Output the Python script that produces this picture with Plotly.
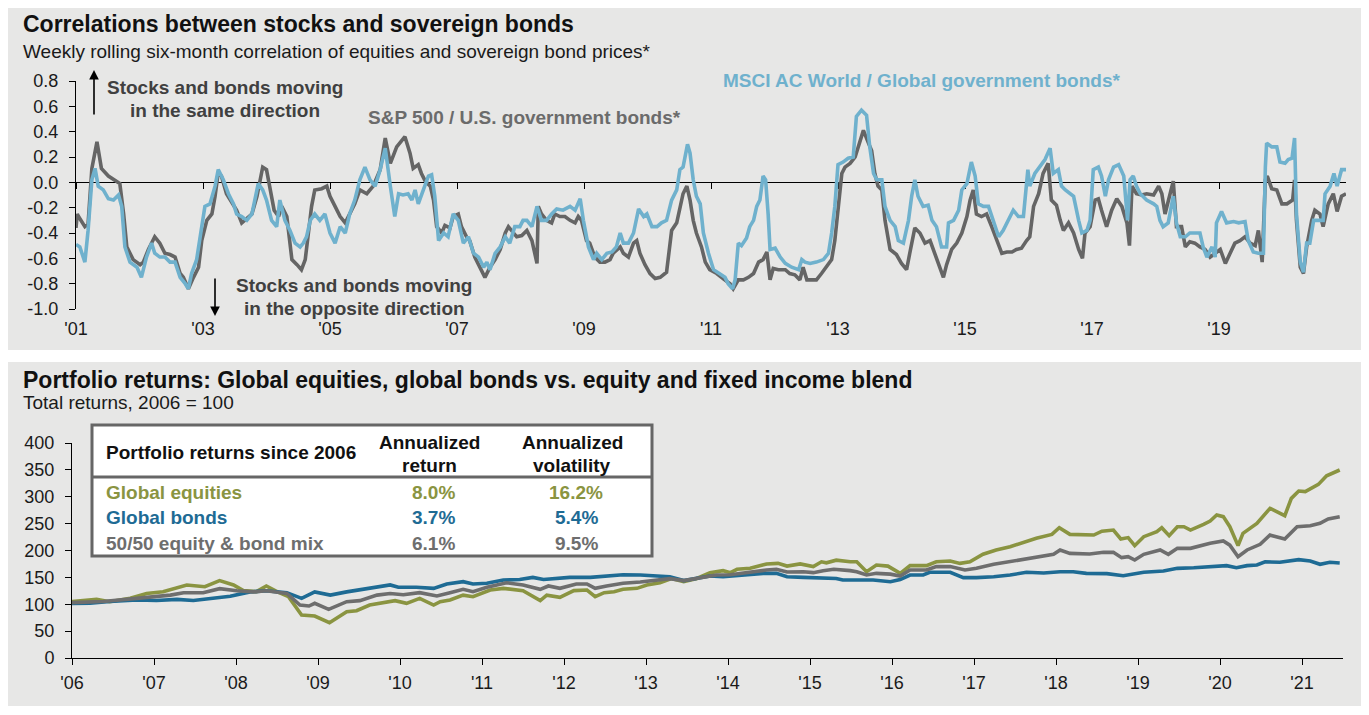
import plotly.graph_objects as go

W, H = 1369, 715

# ---- top chart: weekly rolling six-month correlation ----
sp_years = [
    2001.00, 2001.02, 2001.04, 2001.14, 2001.19, 2001.25, 2001.33, 2001.40, 2001.51, 2001.64,
    2001.69, 2001.75, 2001.80, 2001.90, 2002.01, 2002.06, 2002.14, 2002.24, 2002.32, 2002.40,
    2002.48, 2002.56, 2002.64, 2002.69, 2002.77, 2002.85, 2002.93, 2002.98, 2003.06, 2003.14,
    2003.19, 2003.24, 2003.29, 2003.37, 2003.45, 2003.53, 2003.61, 2003.66, 2003.77, 2003.85,
    2003.94, 2004.00, 2004.06, 2004.12, 2004.19, 2004.24, 2004.32, 2004.36, 2004.40, 2004.48,
    2004.55, 2004.61, 2004.66, 2004.71, 2004.76, 2004.87, 2004.95, 2005.00, 2005.08, 2005.16,
    2005.24, 2005.31, 2005.39, 2005.47, 2005.58, 2005.68, 2005.79, 2005.87,
    2005.95, 2006.05, 2006.18, 2006.26, 2006.31, 2006.39, 2006.44, 2006.50, 2006.58, 2006.63,
    2006.68, 2006.76, 2006.81, 2006.89, 2006.94, 2007.02, 2007.07, 2007.15, 2007.20, 2007.28,
    2007.36, 2007.44, 2007.52, 2007.60, 2007.68, 2007.76, 2007.81, 2007.89, 2007.94, 2008.02,
    2008.10, 2008.18, 2008.26, 2008.28, 2008.33, 2008.41, 2008.49, 2008.54, 2008.62, 2008.70,
    2008.78, 2008.86, 2008.91, 2008.96, 2009.04, 2009.09, 2009.17, 2009.25, 2009.33, 2009.41,
    2009.46, 2009.57, 2009.62, 2009.70, 2009.78, 2009.83, 2009.88, 2009.96, 2010.04, 2010.12,
    2010.20, 2010.30, 2010.38, 2010.46, 2010.51, 2010.56, 2010.62, 2010.67, 2010.72, 2010.77,
    2010.85, 2010.91,
    2010.98, 2011.09, 2011.19, 2011.30, 2011.35, 2011.43, 2011.51, 2011.59, 2011.67, 2011.75,
    2011.82, 2011.88, 2011.93, 2011.98, 2012.06, 2012.17, 2012.24, 2012.32, 2012.40, 2012.45,
    2012.51, 2012.58, 2012.66, 2012.74, 2012.82, 2012.90, 2012.95, 2013.00, 2013.06, 2013.11,
    2013.19, 2013.27, 2013.35, 2013.40, 2013.48, 2013.53, 2013.58, 2013.63, 2013.69, 2013.74,
    2013.82, 2013.92, 2014.00, 2014.08, 2014.13, 2014.21, 2014.29, 2014.37, 2014.45, 2014.53,
    2014.61, 2014.66, 2014.71, 2014.79, 2014.87, 2014.95, 2015.03, 2015.08, 2015.13, 2015.18,
    2015.26, 2015.34, 2015.42, 2015.50, 2015.58, 2015.66, 2015.74, 2015.81, 2015.89, 2015.97,
    2016.02, 2016.08, 2016.16, 2016.23, 2016.31, 2016.36, 2016.44, 2016.50, 2016.55, 2016.63,
    2016.71, 2016.79, 2016.85, 2016.89, 2016.97, 2017.05, 2017.10, 2017.15, 2017.23, 2017.31,
    2017.39, 2017.47, 2017.55, 2017.59, 2017.63, 2017.70, 2017.78, 2017.86, 2017.97, 2018.05,
    2018.10, 2018.15, 2018.23, 2018.28, 2018.33, 2018.41, 2018.47, 2018.54, 2018.62, 2018.70,
    2018.78, 2018.86, 2018.94, 2019.02, 2019.10, 2019.17, 2019.25, 2019.33, 2019.41, 2019.49,
    2019.57, 2019.62, 2019.68, 2019.73, 2019.76, 2019.83, 2019.91, 2019.99, 2020.07, 2020.16,
    2020.19, 2020.22, 2020.28, 2020.33, 2020.38, 2020.46, 2020.51, 2020.59, 2020.64, 2020.72,
    2020.80, 2020.86, 2020.93, 2021.00,
]
sp_corr = [
    -0.36, -0.25, -0.27, -0.35, -0.33, 0.11, 0.32, 0.11, 0.05, 0.01,
    -0.01, -0.25, -0.51, -0.61, -0.65, -0.63, -0.53, -0.43, -0.48, -0.56,
    -0.57, -0.59, -0.72, -0.75, -0.84, -0.75, -0.67, -0.46, -0.30, -0.25,
    -0.11, 0.08, 0.05, -0.09, -0.15, -0.22, -0.32, -0.30, -0.25, -0.11,
    0.12, 0.10, -0.06, -0.22, -0.27, -0.19, -0.27, -0.46, -0.61, -0.65,
    -0.69, -0.61, -0.38, -0.19, -0.06, -0.05, -0.03, -0.11, -0.19, -0.27,
    -0.32, -0.25, -0.17, -0.06, -0.09, -0.03, 0.10, 0.35,
    0.15, 0.28, 0.36, 0.23, 0.11, 0.14, 0.07, 0.01, -0.03, -0.14,
    -0.35, -0.40, -0.34, -0.36, -0.27, -0.25, -0.35, -0.43, -0.46, -0.59,
    -0.67, -0.75, -0.67, -0.61, -0.53, -0.40, -0.35, -0.40, -0.43, -0.42,
    -0.38, -0.46, -0.64, -0.19, -0.25, -0.30, -0.32, -0.25, -0.27, -0.27,
    -0.30, -0.32, -0.27, -0.30, -0.46, -0.48, -0.59, -0.63, -0.63, -0.61,
    -0.56, -0.51, -0.56, -0.59, -0.48, -0.46, -0.56, -0.65, -0.72, -0.76,
    -0.75, -0.71, -0.38, -0.32, -0.19, -0.09, -0.03, -0.14, -0.30, -0.40,
    -0.51, -0.63,
    -0.69, -0.72, -0.76, -0.80, -0.84, -0.77, -0.77, -0.75, -0.72, -0.63,
    -0.61, -0.55, -0.77, -0.68, -0.69, -0.69, -0.72, -0.73, -0.77, -0.67,
    -0.77, -0.77, -0.77, -0.72, -0.67, -0.61, -0.46, -0.19, 0.07, 0.12,
    0.15, 0.20, 0.33, 0.41, 0.31, 0.25, 0.07, -0.03, -0.06, -0.30,
    -0.53, -0.57, -0.64, -0.69, -0.56, -0.36, -0.40, -0.48, -0.46, -0.57,
    -0.67, -0.75, -0.65, -0.53, -0.48, -0.40, -0.27, -0.14, -0.06, -0.25,
    -0.27, -0.25, -0.35, -0.46, -0.56, -0.55, -0.55, -0.53, -0.52, -0.46,
    -0.43, -0.19, -0.09, 0.07, 0.15, -0.14, -0.18, -0.30, -0.38, -0.32,
    -0.40, -0.53, -0.60, -0.40, -0.35, -0.14, -0.13, -0.22, -0.35, -0.22,
    -0.13, -0.19, -0.32, -0.50, -0.03, -0.09, -0.10, -0.09, -0.10, -0.03,
    -0.09, -0.25, -0.09, 0.01, -0.35, -0.35, -0.51, -0.47, -0.48, -0.51,
    -0.53, -0.59, -0.56, -0.53, -0.64, -0.56, -0.48, -0.46, -0.43, -0.48,
    -0.50, -0.38, -0.63, 0.02, 0.05, -0.05, -0.06, -0.17, -0.17, -0.14,
    0.02, -0.30, -0.67, -0.72, -0.51, -0.30, -0.22, -0.25, -0.35, -0.17,
    -0.09, -0.23, -0.11, -0.09,
]

msci_years = [
    2001.00, 2001.06, 2001.14, 2001.19, 2001.25, 2001.30, 2001.35, 2001.43, 2001.51, 2001.59,
    2001.67, 2001.72, 2001.77, 2001.85, 2001.96, 2002.03, 2002.11, 2002.19, 2002.24, 2002.32,
    2002.40, 2002.48, 2002.56, 2002.64, 2002.72, 2002.77, 2002.82, 2002.90, 2002.98, 2003.03,
    2003.11, 2003.19, 2003.24, 2003.32, 2003.40, 2003.48, 2003.53, 2003.61, 2003.69, 2003.77,
    2003.87, 2003.94, 2004.00, 2004.08, 2004.16, 2004.21, 2004.29, 2004.37, 2004.45, 2004.53,
    2004.58, 2004.63, 2004.69, 2004.76, 2004.84, 2004.92, 2005.00, 2005.08, 2005.16, 2005.24,
    2005.31, 2005.39, 2005.47, 2005.55, 2005.63, 2005.71, 2005.79, 2005.87,
    2005.95, 2006.02, 2006.08, 2006.15, 2006.23, 2006.29, 2006.34, 2006.39, 2006.47, 2006.55,
    2006.60, 2006.65, 2006.71, 2006.79, 2006.86, 2006.94, 2007.02, 2007.10, 2007.18, 2007.26,
    2007.34, 2007.42, 2007.47, 2007.52, 2007.60, 2007.68, 2007.76, 2007.83, 2007.91, 2007.99,
    2008.04, 2008.10, 2008.18, 2008.26, 2008.33, 2008.41, 2008.49, 2008.57, 2008.67, 2008.78,
    2008.86, 2008.94, 2008.99, 2009.07, 2009.15, 2009.20, 2009.28, 2009.36, 2009.44, 2009.51,
    2009.57, 2009.62, 2009.70, 2009.78, 2009.86, 2009.94, 2009.99, 2010.07, 2010.15, 2010.22,
    2010.30, 2010.38, 2010.46, 2010.51, 2010.56, 2010.63, 2010.67, 2010.72, 2010.77, 2010.83,
    2010.88, 2010.96,
    2011.04, 2011.12, 2011.22, 2011.27, 2011.34, 2011.38, 2011.43, 2011.48, 2011.56, 2011.61,
    2011.67, 2011.72, 2011.77, 2011.82, 2011.86, 2011.90, 2011.93, 2012.01, 2012.09, 2012.17,
    2012.27, 2012.38, 2012.43, 2012.48, 2012.56, 2012.66, 2012.77, 2012.85, 2012.90, 2012.95,
    2013.00, 2013.08, 2013.16, 2013.24, 2013.29, 2013.37, 2013.45, 2013.50, 2013.56, 2013.61,
    2013.69, 2013.74, 2013.82, 2013.90, 2013.95, 2014.03, 2014.11, 2014.16, 2014.21, 2014.26,
    2014.34, 2014.42, 2014.48, 2014.55, 2014.63, 2014.71, 2014.74, 2014.82, 2014.90, 2014.95,
    2015.03, 2015.10, 2015.16, 2015.21, 2015.29, 2015.37, 2015.45, 2015.53, 2015.60, 2015.68,
    2015.76, 2015.84, 2015.92, 2015.99,
    2016.02, 2016.10, 2016.18, 2016.26, 2016.34, 2016.39, 2016.47, 2016.52, 2016.58, 2016.65,
    2016.71, 2016.79, 2016.84, 2016.92, 2016.97, 2017.02, 2017.10, 2017.15, 2017.21, 2017.26,
    2017.34, 2017.42, 2017.50, 2017.56, 2017.60, 2017.65, 2017.70, 2017.76, 2017.86, 2017.97,
    2018.02, 2018.07, 2018.12, 2018.20, 2018.28, 2018.33, 2018.39, 2018.47, 2018.54, 2018.62,
    2018.70, 2018.75, 2018.81, 2018.89, 2018.94, 2018.96, 2019.04, 2019.12, 2019.23, 2019.31,
    2019.41, 2019.46, 2019.54, 2019.62, 2019.70, 2019.73, 2019.75, 2019.83, 2019.91, 2019.96,
    2020.04, 2020.09, 2020.15, 2020.19, 2020.22, 2020.28, 2020.33, 2020.38, 2020.43, 2020.49,
    2020.57, 2020.64, 2020.67, 2020.75, 2020.81, 2020.86, 2020.93, 2021.00,
]
msci_corr = [
    -0.49, -0.51, -0.63, -0.38, 0.02, 0.11, -0.03, -0.06, -0.13, -0.14,
    -0.10, -0.19, -0.51, -0.63, -0.67, -0.75, -0.59, -0.48, -0.56, -0.59,
    -0.59, -0.63, -0.63, -0.75, -0.80, -0.84, -0.72, -0.61, -0.35, -0.19,
    -0.17, -0.03, 0.10, 0.02, -0.09, -0.17, -0.25, -0.27, -0.30, -0.25,
    -0.01, -0.06, -0.14, -0.30, -0.35, -0.14, -0.30, -0.38, -0.48, -0.51,
    -0.48, -0.43, -0.30, -0.25, -0.30, -0.25, -0.40, -0.48, -0.35, -0.40,
    -0.25, -0.14, 0.02, 0.12, 0.02, -0.03, 0.10, 0.27,
    -0.03, -0.27, -0.09, -0.10, -0.09, -0.14, -0.06, -0.17, -0.06, 0.05,
    0.06, -0.11, -0.46, -0.40, -0.43, -0.25, -0.30, -0.48, -0.43, -0.56,
    -0.59, -0.67, -0.63, -0.69, -0.56, -0.51, -0.43, -0.48, -0.35, -0.35,
    -0.30, -0.30, -0.35, -0.19, -0.30, -0.30, -0.25, -0.21, -0.22, -0.19,
    -0.22, -0.13, -0.30, -0.51, -0.61, -0.56, -0.61, -0.56, -0.55, -0.51,
    -0.40, -0.48, -0.48, -0.40, -0.21, -0.27, -0.25, -0.35, -0.35, -0.32,
    -0.30, -0.14, -0.06, 0.10, 0.12, 0.30, 0.23, 0.02, -0.11, -0.17,
    -0.40, -0.56,
    -0.69, -0.72, -0.75, -0.80, -0.84, -0.77, -0.48, -0.50, -0.44, -0.35,
    -0.30, -0.19, -0.14, 0.05, 0.02, -0.25, -0.53, -0.52, -0.59, -0.64,
    -0.67, -0.69, -0.61, -0.63, -0.64, -0.63, -0.61, -0.56, -0.40, -0.19,
    0.14, 0.16, 0.19, 0.20, 0.52, 0.57, 0.53, 0.28, 0.07, 0.02,
    0.02, -0.19, -0.30, -0.35, -0.46, -0.48, -0.30, -0.11, 0.02, -0.11,
    -0.19, -0.18, -0.30, -0.35, -0.51, -0.51, -0.32, -0.30, -0.22, -0.06,
    -0.01, 0.16, 0.05, -0.17, -0.19, -0.19, -0.30, -0.43, -0.38, -0.30,
    -0.22, -0.27, -0.27, 0.10,
    -0.03, 0.07, 0.12, 0.18, 0.27, 0.07, 0.10, -0.03, -0.06, -0.09,
    -0.11, -0.30, -0.40, -0.38, -0.30, 0.10, 0.12, 0.05, -0.11, 0.02,
    0.12, 0.14, 0.05, -0.30, 0.02, 0.05, -0.03, -0.09, -0.14, -0.17,
    -0.19, -0.30, -0.35, -0.32, -0.11, -0.32, -0.43, -0.43, -0.40, -0.40,
    -0.40, -0.51, -0.59, -0.51, -0.59, -0.32, -0.23, -0.32, -0.31, -0.32,
    -0.31, -0.46, -0.55, -0.56, -0.56, 0.12, 0.31, 0.28, 0.28, 0.16,
    0.15, 0.18, 0.19, 0.35, -0.25, -0.63, -0.71, -0.48, -0.48, -0.30,
    -0.30, -0.30, -0.09, -0.03, 0.07, -0.03, 0.10, 0.10,
]

corr_tickvals = [2001, 2003, 2005, 2007, 2009, 2011, 2013, 2015, 2017, 2019]
corr_ticktext = ["'01", "'03", "'05", "'07", "'09", "'11", "'13", "'15", "'17", "'19"]
corr_yticks = [0.8, 0.6, 0.4, 0.2, 0.0, -0.2, -0.4, -0.6, -0.8, -1.0]
corr_yticktext = ["0.8", "0.6", "0.4", "0.2", "0.0", "-0.2", "-0.4", "-0.6", "-0.8", "-1.0"]

# ---- bottom chart: total returns, 2006 = 100 ----
eq_years = [
    2006.00, 2006.30, 2006.46, 2006.71, 2006.91, 2007.11, 2007.40, 2007.62, 2007.80, 2007.97,
    2008.09, 2008.25, 2008.37, 2008.50, 2008.64, 2008.80, 2008.96, 2009.14, 2009.35, 2009.47,
    2009.63, 2009.80, 2009.94, 2010.08, 2010.24, 2010.41, 2010.49, 2010.61, 2010.77, 2010.89,
    2011.02, 2011.10, 2011.26, 2011.50, 2011.71, 2011.79, 2011.95, 2012.12, 2012.28, 2012.38,
    2012.49, 2012.61, 2012.72, 2012.89, 2013.01, 2013.17, 2013.31, 2013.46, 2013.62, 2013.78,
    2013.94, 2014.03, 2014.11, 2014.27, 2014.47, 2014.61, 2014.72, 2014.88, 2015.04, 2015.14,
    2015.20, 2015.32, 2015.49, 2015.57, 2015.69, 2015.81, 2015.95, 2016.10, 2016.22, 2016.42,
    2016.54, 2016.71, 2016.83, 2016.95, 2017.11, 2017.27, 2017.44, 2017.60, 2017.76, 2017.95,
    2018.04, 2018.17, 2018.33, 2018.46, 2018.56, 2018.70, 2018.79, 2018.88, 2018.96, 2019.07,
    2019.23, 2019.29, 2019.38, 2019.48, 2019.56, 2019.64, 2019.80, 2019.88, 2019.96, 2020.04,
    2020.12, 2020.22, 2020.28, 2020.45, 2020.61, 2020.79, 2020.87, 2020.96, 2021.04, 2021.20,
    2021.30, 2021.46,
]
eq_index = [
    104.8, 109.0, 104.8, 111.0, 120.0, 123.4, 135.8, 132.7, 143.9, 135.8,
    125.3, 123.4, 134.0, 123.4, 114.0, 80.0, 78.0, 65.7, 86.0, 88.0,
    98.6, 103.0, 106.7, 101.7, 111.0, 98.6, 104.8, 108.0, 117.0, 114.0,
    121.5, 126.5, 129.6, 125.3, 106.7, 117.0, 113.0, 125.3, 126.5, 114.0,
    121.5, 123.4, 127.8, 129.6, 135.8, 140.0, 148.0, 142.0, 148.0, 158.8,
    162.5, 158.8, 165.0, 166.8, 175.0, 176.0, 171.0, 175.0, 170.0, 179.0,
    177.0, 182.0, 179.0, 179.0, 160.6, 173.0, 171.0, 157.5, 171.8, 171.8,
    179.0, 180.5, 176.0, 179.0, 193.0, 201.0, 207.0, 215.0, 222.6, 230.0,
    242.5, 230.0, 230.0, 228.8, 236.0, 238.0, 221.4, 224.0, 209.0, 225.7,
    235.0, 242.5, 227.6, 244.3, 244.3, 238.0, 248.7, 254.9, 266.0, 263.0,
    244.3, 209.0, 232.0, 250.5, 278.4, 264.8, 297.0, 310.7, 309.5, 323.0,
    339.0, 349.8,
]

bond_years = [
    2006.00, 2006.22, 2006.46, 2006.79, 2007.03, 2007.28, 2007.48, 2007.72, 2007.93, 2008.17,
    2008.37, 2008.62, 2008.80, 2008.96, 2009.15, 2009.35, 2009.55, 2009.72, 2009.88, 2009.98,
    2010.20, 2010.41, 2010.57, 2010.77, 2010.89, 2011.06, 2011.26, 2011.46, 2011.62, 2011.75,
    2011.91, 2012.07, 2012.32, 2012.52, 2012.72, 2012.93, 2013.13, 2013.29, 2013.46, 2013.62,
    2013.78, 2013.94, 2014.19, 2014.43, 2014.59, 2014.72, 2014.92, 2015.16, 2015.32, 2015.40,
    2015.57, 2015.77, 2015.98, 2016.10, 2016.22, 2016.38, 2016.46, 2016.71, 2016.87, 2017.03,
    2017.24, 2017.44, 2017.64, 2017.85, 2018.05, 2018.21, 2018.37, 2018.62, 2018.82, 2019.07,
    2019.31, 2019.48, 2019.68, 2019.88, 2020.08, 2020.20, 2020.33, 2020.45, 2020.55, 2020.73,
    2020.96, 2021.10, 2021.22, 2021.34, 2021.46,
]
bond_index = [
    101.7, 102.0, 105.0, 108.0, 107.0, 109.0, 107.0, 111.0, 115.0, 123.0,
    125.0, 121.5, 111.0, 123.0, 117.0, 123.0, 128.0, 133.0, 136.0, 131.5,
    131.5, 129.6, 137.7, 142.0, 137.7, 139.0, 145.0, 146.0, 150.0, 146.0,
    147.6, 150.0, 150.0, 152.6, 155.0, 154.4, 152.6, 151.3, 144.0, 148.0,
    152.6, 151.3, 154.4, 157.5, 157.5, 151.3, 150.0, 148.0, 148.0, 145.0,
    145.0, 145.0, 142.0, 146.0, 154.4, 154.4, 159.4, 159.4, 149.5, 149.5,
    151.3, 154.4, 159.4, 158.0, 160.6, 160.6, 157.5, 157.0, 153.0, 159.4,
    161.9, 166.8, 168.0, 169.3, 171.8, 168.0, 171.8, 173.0, 179.0, 178.0,
    183.0, 180.5, 174.3, 178.0, 176.7,
]

mix_years = [
    2006.00, 2006.38, 2006.79, 2007.03, 2007.20, 2007.36, 2007.60, 2007.80, 2008.01, 2008.21,
    2008.37, 2008.62, 2008.78, 2008.89, 2008.96, 2009.13, 2009.35, 2009.51, 2009.72, 2009.88,
    2010.04, 2010.24, 2010.45, 2010.61, 2010.77, 2010.89, 2011.06, 2011.30, 2011.50, 2011.71,
    2011.81, 2011.95, 2012.15, 2012.28, 2012.38, 2012.52, 2012.72, 2012.93, 2013.13, 2013.29,
    2013.46, 2013.62, 2013.86, 2014.03, 2014.27, 2014.47, 2014.59, 2014.72, 2014.92, 2015.04,
    2015.16, 2015.29, 2015.49, 2015.57, 2015.69, 2015.81, 2015.98, 2016.10, 2016.22, 2016.42,
    2016.54, 2016.71, 2016.89, 2017.03, 2017.24, 2017.44, 2017.60, 2017.85, 2017.97, 2018.05,
    2018.17, 2018.41, 2018.58, 2018.70, 2018.80, 2018.88, 2018.96, 2019.07, 2019.27, 2019.37,
    2019.48, 2019.64, 2019.88, 2020.04, 2020.12, 2020.22, 2020.33, 2020.49, 2020.61, 2020.79,
    2020.94, 2021.10, 2021.22, 2021.32, 2021.46,
]
mix_index = [
    103.0, 105.0, 111.0, 114.0, 117.0, 121.5, 121.5, 129.0, 125.0, 123.0,
    125.0, 120.0, 98.6, 96.7, 101.7, 90.5, 104.8, 106.7, 117.0, 120.0,
    117.8, 121.5, 115.3, 121.5, 127.8, 123.4, 131.5, 140.0, 135.8, 127.8,
    134.0, 129.6, 137.7, 137.7, 129.6, 134.0, 139.0, 141.4, 145.0, 147.6,
    144.0, 148.0, 154.4, 155.0, 160.6, 163.7, 165.0, 160.0, 160.6, 158.8,
    162.5, 165.0, 162.5, 160.6, 154.4, 157.5, 156.0, 152.6, 163.7, 163.7,
    170.0, 170.0, 163.7, 166.8, 174.3, 179.0, 184.0, 188.5, 192.9, 201.0,
    194.7, 193.5, 196.6, 196.6, 186.7, 188.5, 182.3, 192.9, 201.0, 192.9,
    204.0, 204.0, 213.3, 217.7, 210.0, 188.5, 201.0, 211.5, 228.8, 221.4,
    244.3, 246.2, 250.5, 258.6, 263.0,
]

ret_tickvals = list(range(2006, 2022))
ret_ticktext = ["'06", "'07", "'08", "'09", "'10", "'11", "'12", "'13",
                "'14", "'15", "'16", "'17", "'18", "'19", "'20", "'21"]
ret_yticks = [0, 50, 100, 150, 200, 250, 300, 350, 400]

table_rows = ["Global equities", "Global bonds", "50/50 equity & bond mix"]
table_return = ["8.0%", "3.7%", "6.1%"]
table_vol = ["16.2%", "5.4%", "9.5%"]

# ---- styling ----
FONT = "Arial, Liberation Sans, sans-serif"
PANEL = "#e7e7e6"
SP_COL = "#656565"
MSCI_COL = "#6fb1cd"
EQ_COL = "#8a9441"
BOND_COL = "#1e6b94"
MIX_COL = "#6e6e6e"
row_colors = [EQ_COL, BOND_COL, MIX_COL]

# the page puts the figure 8px in from the top left corner
OFF = 8


def fx(px):
    return (px - OFF) / W


def fy(py):
    return 1 - (py - OFF) / H


fig = go.Figure()

fig.add_trace(go.Scatter(x=sp_years, y=sp_corr, mode="lines",
                         line=dict(color=SP_COL, width=3.6), xaxis="x", yaxis="y",
                         hoverinfo="skip"))
fig.add_trace(go.Scatter(x=msci_years, y=msci_corr, mode="lines",
                         line=dict(color=MSCI_COL, width=3.6), xaxis="x", yaxis="y",
                         hoverinfo="skip"))

fig.add_trace(go.Scatter(x=eq_years, y=eq_index, mode="lines",
                         line=dict(color=EQ_COL, width=3.6), xaxis="x2", yaxis="y2",
                         hoverinfo="skip"))
fig.add_trace(go.Scatter(x=bond_years, y=bond_index, mode="lines",
                         line=dict(color=BOND_COL, width=3.6), xaxis="x2", yaxis="y2",
                         hoverinfo="skip"))
fig.add_trace(go.Scatter(x=mix_years, y=mix_index, mode="lines",
                         line=dict(color=MIX_COL, width=3.6), xaxis="x2", yaxis="y2",
                         hoverinfo="skip"))

# pixel frames of the two plot areas
top_y0, top_y1 = 309, 81
bot_y0, bot_y1 = 658, 443
zero_frac = fy(top_y0) + (fy(top_y1) - fy(top_y0)) * (1.0 / 1.8)
TICKFONT = dict(family=FONT, size=18, color="#1a1a1a")

fig.update_layout(
    width=W, height=H,
    margin=dict(l=0, r=0, t=0, b=0),
    paper_bgcolor="white",
    plot_bgcolor="rgba(0,0,0,0)",
    showlegend=False,
    font=dict(family=FONT, size=16, color="#1a1a1a"),
    xaxis=dict(domain=[fx(76), fx(1346)], range=[2001, 2021], anchor="free",
               position=zero_frac, showline=True, linecolor="black", linewidth=1,
               ticks="outside", ticklen=6, tickcolor="black", tickvals=corr_tickvals,
               ticktext=corr_ticktext, ticklabelstandoff=124, showgrid=False,
               zeroline=False, layer="below traces", automargin=False, tickfont=TICKFONT),
    yaxis=dict(domain=[fy(top_y0), fy(top_y1)], range=[-1.0, 0.8], anchor="x",
               showline=True, linecolor="black", linewidth=1, ticks="outside",
               ticklen=6, tickcolor="black", tickvals=corr_yticks, ticktext=corr_yticktext,
               showgrid=False, zeroline=False, ticklabelstandoff=7, automargin=False,
               tickfont=TICKFONT),
    xaxis2=dict(domain=[fx(72), fx(1343)], range=[2006, 2021.5], anchor="y2",
                showline=True, linecolor="black", linewidth=1, ticks="outside",
                ticklen=6, tickcolor="black", tickvals=ret_tickvals,
                ticktext=ret_ticktext, showgrid=False, zeroline=False,
                ticklabelstandoff=2, automargin=False, tickfont=TICKFONT),
    yaxis2=dict(domain=[fy(bot_y0), fy(bot_y1)], range=[0, 400], anchor="x2",
                showline=True, linecolor="black", linewidth=1, ticks="outside",
                ticklen=6, tickcolor="black", tickvals=ret_yticks, showgrid=False,
                zeroline=False, ticklabelstandoff=7, automargin=False, tickfont=TICKFONT),
)

shapes = [
    dict(type="rect", xref="paper", yref="paper", x0=fx(8), x1=fx(1362),
         y0=fy(350), y1=fy(8), fillcolor=PANEL, line_width=0, layer="below"),
    dict(type="rect", xref="paper", yref="paper", x0=fx(8), x1=fx(1362),
         y0=fy(706), y1=fy(362), fillcolor=PANEL, line_width=0, layer="below"),
    # stats table box
    dict(type="rect", xref="paper", yref="paper", x0=fx(92), x1=fx(652),
         y0=fy(556), y1=fy(425), fillcolor="white",
         line=dict(color="#666666", width=3), layer="above"),
    dict(type="line", xref="paper", yref="paper", x0=fx(92), x1=fx(652),
         y0=fy(477), y1=fy(477), line=dict(color="#666666", width=3), layer="above"),
]
fig.update_layout(shapes=shapes)

ann = []


def text(px, py, s, size=16, color="#1a1a1a", bold=False, xanchor="left"):
    if bold:
        s = "<b>" + s + "</b>"
    ann.append(dict(x=fx(px), y=fy(py), xref="paper", yref="paper", text=s,
                    showarrow=False, xanchor=xanchor, yanchor="middle",
                    font=dict(family=FONT, size=size, color=color)))


text(21, 24, "Correlations between stocks and sovereign bonds", size=23, color="#111111", bold=True)
text(21, 51, "Weekly rolling six-month correlation of equities and sovereign bond prices*", size=19)
text(225, 88, "Stocks and bonds moving", size=19, color="#404040", bold=True, xanchor="center")
text(225, 111, "in the same direction", size=19, color="#404040", bold=True, xanchor="center")
text(354, 285, "Stocks and bonds moving", size=19, color="#404040", bold=True, xanchor="center")
text(354, 308, "in the opposite direction", size=19, color="#404040", bold=True, xanchor="center")
text(366, 117, "S&P 500 / U.S. government bonds*", size=19, color="#6b6b6b", bold=True)
text(721, 81, "MSCI AC World / Global government bonds*", size=19, color=MSCI_COL, bold=True)

text(21, 380, "Portfolio returns: Global equities, global bonds vs. equity and fixed income blend",
     size=23, color="#111111", bold=True)
text(21, 403, "Total returns, 2006 = 100", size=19)

text(104, 452, "Portfolio returns since 2006", size=19, color="#111111", bold=True)
text(429, 442, "Annualized", size=19, color="#111111", bold=True, xanchor="center")
text(429, 465, "return", size=19, color="#111111", bold=True, xanchor="center")
text(572, 442, "Annualized", size=19, color="#111111", bold=True, xanchor="center")
text(572, 465, "volatility", size=19, color="#111111", bold=True, xanchor="center")
for i, name in enumerate(table_rows):
    row_y = 492 + i * 25.5
    text(104, row_y, name, size=19, color=row_colors[i], bold=True)
    text(434, row_y, table_return[i], size=19, color=row_colors[i], bold=True, xanchor="center")
    text(576, row_y, table_vol[i], size=19, color=row_colors[i], bold=True, xanchor="center")

# direction arrows
for tip_y, tail_y, ax_px in [(70, 116, 94), (316, 277, 215)]:
    ann.append(dict(x=fx(ax_px), y=fy(tip_y), xref="paper", yref="paper", text="",
                    showarrow=True, ax=0, ay=tail_y - tip_y, arrowhead=2, arrowsize=1.2,
                    arrowwidth=1.6, arrowcolor="black", standoff=0))

fig.update_layout(annotations=ann)

fig.write_html("out.html")
